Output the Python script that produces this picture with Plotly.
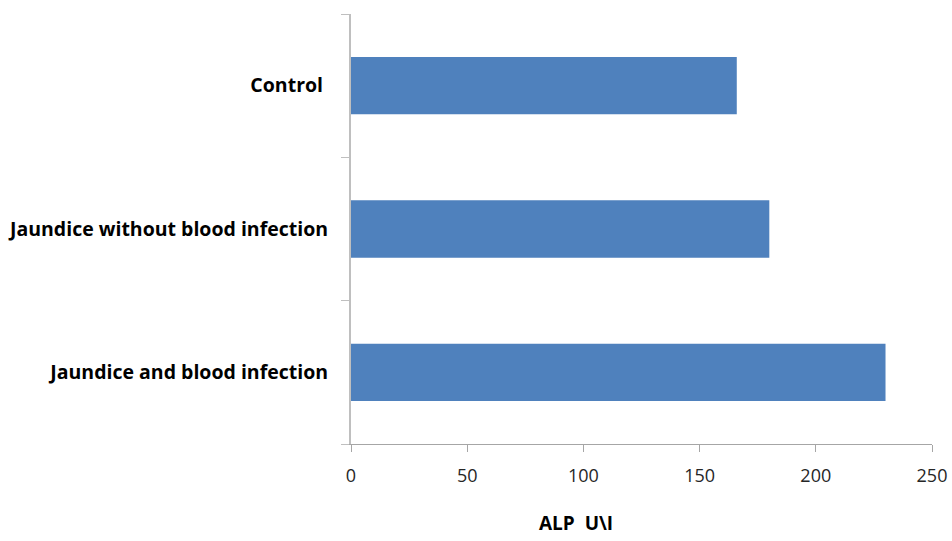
import plotly.graph_objects as go

# ALP levels per group
groups = ["Jaundice and blood infection", "Jaundice without blood infection", "Control "]
alp_values = [230, 180, 166]
x_ticks = [0, 50, 100, 150, 200, 250]

FONT = "Open Sans, Liberation Sans, sans-serif"

fig = go.Figure(
    go.Bar(
        y=groups,
        x=alp_values,
        orientation="h",
        width=0.4,
        marker=dict(color="#4F81BD", line=dict(width=0)),
    )
)

fig.update_layout(
    width=952,
    height=541,
    margin=dict(l=351, r=20, t=14, b=97),
    paper_bgcolor="white",
    plot_bgcolor="white",
    showlegend=False,
    font=dict(family=FONT),
    annotations=[
        dict(
            text="<b>ALP  U\\I</b>",
            xref="paper",
            yref="paper",
            x=0.387,
            y=-0.183,
            xanchor="center",
            yanchor="middle",
            showarrow=False,
            font=dict(size=19, color="#000000", family=FONT),
        )
    ],
)

fig.update_xaxes(
    range=[0, 250],
    tickvals=x_ticks,
    automargin=False,
    showgrid=False,
    zeroline=False,
    showline=True,
    linecolor="#A6A6A6",
    linewidth=1,
    ticks="outside",
    ticklen=7,
    tickcolor="#A6A6A6",
    ticklabelstandoff=8,
    tickfont=dict(size=18, color="#262626", family=FONT),
)

fig.update_yaxes(
    type="category",
    range=[-0.5, 2.5],
    automargin=False,
    showgrid=False,
    zeroline=False,
    showline=True,
    linecolor="#BFBFBF",
    linewidth=2,
    ticks="outside",
    tickson="boundaries",
    ticklen=8,
    tickcolor="#BFBFBF",
    ticklabelstandoff=17,
    tickfont=dict(size=19.5, color="#000000", family=FONT, weight="bold"),
)

fig.write_html("out.html")
